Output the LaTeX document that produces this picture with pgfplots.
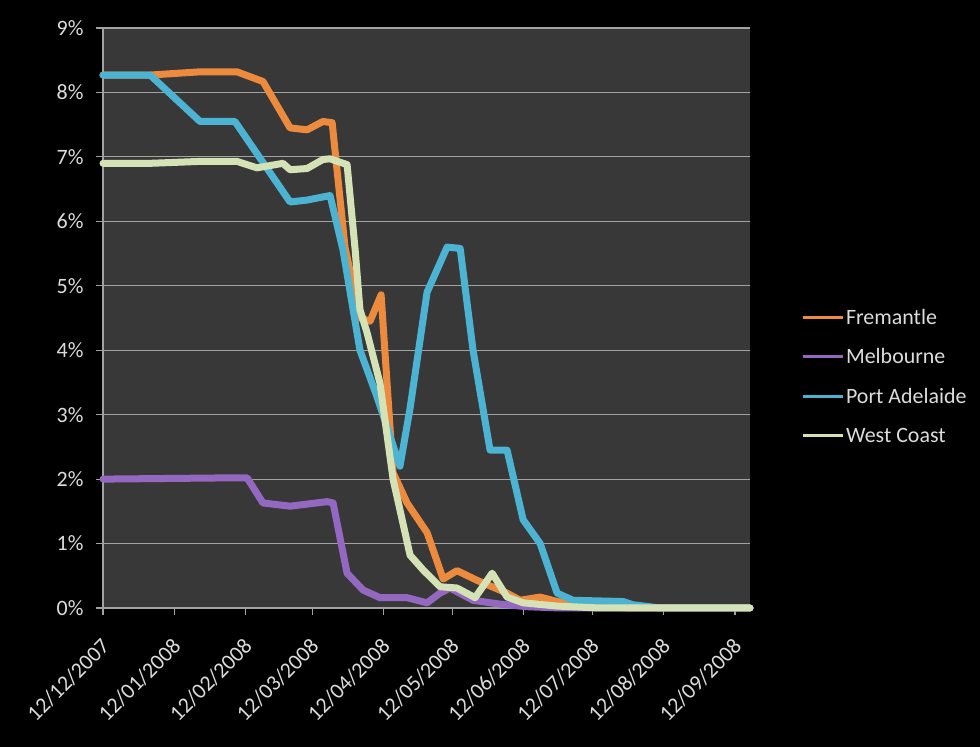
\documentclass[border=0pt]{standalone}
\usepackage{pgfplots}
\pgfplotsset{compat=1.18}
\usepackage{fontspec}
\setmainfont{Carlito}
\definecolor{fre}{HTML}{EC8A3E}
\definecolor{mel}{HTML}{9468C0}
\definecolor{pa}{HTML}{4DB3D3}
\definecolor{wc}{HTML}{D4E2B6}
\definecolor{plotbg}{HTML}{383838}
\definecolor{lbl}{HTML}{DCDCDC}
\definecolor{gridc}{HTML}{A2A2A2}
\begin{document}
\begin{tikzpicture}
\fill[black] (0,0) rectangle (980bp,747bp);
\begin{axis}[
  at={(103bp,139bp)}, anchor=south west, scale only axis,
  width=647bp, height=580bp,
  xmin=0, xmax=281.5, ymin=0, ymax=9,
  axis x line*=bottom, axis y line*=left,
  axis line style={draw=gridc, line width=1.2bp, -},
  axis background/.style={fill=plotbg},
  clip=false,
  ymajorgrids, grid style={draw=gridc, line width=1.2bp},
  tick align=outside, major tick length=7bp,
  tick style={draw=gridc, line width=1.2bp},
  ytick={0,1,...,9},
  yticklabel={\pgfmathprintnumber{\tick}\%},
  /pgf/number format/assume math mode=true,
  yticklabel style={font=\fontsize{22}{26}\selectfont, text=lbl, xshift=-9bp},
  xtick={0,31,62,91,122,152,183,213,244,275},
  xticklabels={12/12/2007,12/01/2008,12/02/2008,12/03/2008,12/04/2008,12/05/2008,12/06/2008,12/07/2008,12/08/2008,12/09/2008},
  xticklabel style={font=\fontsize{22}{26}\selectfont, text=lbl, xshift=-3bp, yshift=-17bp, rotate=45, anchor=north east},
  every axis plot/.append style={line width=7bp, line join=round, line cap=round},
  legend style={draw=none, fill=none, at={(1.074,0.523)}, anchor=north west,
    font=\fontsize{22}{26}\selectfont, text=lbl, row sep=19bp},
  legend cell align=left,
  legend image code/.code={\draw[#1, line width=3bp, line cap=butt] (0bp,0bp) -- (40bp,0bp);},
]
\addplot[fre] coordinates {
(0,8.27) (20.5,8.27) (42.2,8.32) (58.3,8.32) (69.6,8.17) (81.4,7.45) (88.8,7.42)
(95.7,7.55) (99.7,7.53) (105.3,5.6) (111.8,4.5) (116.2,4.45) (121.0,4.86)
(126.2,2.1) (132.3,1.63) (141.0,1.17) (148.0,0.45) (154.0,0.58) (162.7,0.43)
(175.8,0.23) (181.5,0.12) (190.2,0.17) (197.6,0.1) (212,0.03) (230,0) (281.5,0)};
\addlegendentry{Fremantle}
\addplot[mel] coordinates {
(0,2.0) (56.6,2.02) (62.7,2.02) (69.6,1.63) (81.4,1.58) (97.5,1.65) (100.1,1.63)
(106.2,0.54) (113.1,0.28) (120.5,0.16) (132.3,0.16) (141,0.08) (146.6,0.23)
(151,0.31) (161,0.12) (172.8,0.06) (184.5,0.02) (198.9,0) (281.5,0)};
\addlegendentry{Melbourne}
\addplot[pa] coordinates {
(0,8.27) (20.5,8.27) (42.2,7.55) (57.4,7.55) (81.4,6.3) (88.8,6.33) (98.8,6.4)
(104.4,5.56) (111.8,4.0) (119.2,3.28) (129.2,2.2) (133.6,3.1) (141.0,4.9)
(149.7,5.6) (155.4,5.58) (161.0,4.0) (168.4,2.45) (175.8,2.45) (182.8,1.37)
(190.2,1.0) (197.6,0.23) (204.5,0.12) (226.3,0.1) (230.6,0.05) (242.4,0) (281.5,0)};
\addlegendentry{Port Adelaide}
\addplot[wc] coordinates {
(0,6.9) (20.5,6.9) (42.2,6.93) (58.3,6.93) (67,6.83) (78.3,6.9) (81.4,6.8)
(88.8,6.82) (95.7,6.96) (98.8,6.97) (106.2,6.88) (109.7,5.56) (111.8,4.63)
(114.9,4.27) (120.5,3.49) (126.2,2.0) (133.6,0.82) (139.3,0.59) (146.6,0.33)
(154,0.31) (161.9,0.16) (169.3,0.54) (175.8,0.17) (182.8,0.08) (197.6,0.03)
(216,0) (281.5,0)};
\addlegendentry{West Coast}
\end{axis}
\end{tikzpicture}
\end{document}
